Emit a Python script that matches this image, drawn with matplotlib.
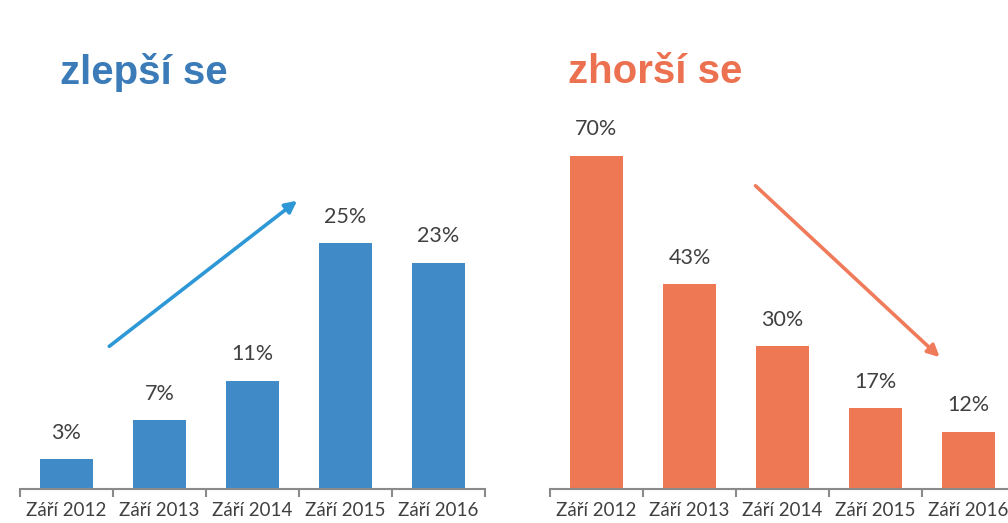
import matplotlib
matplotlib.use("Agg")
import matplotlib.pyplot as plt

categories = ["Září 2012", "Září 2013", "Září 2014", "Září 2015", "Září 2016"]
better = [3, 7, 11, 25, 23]
worse = [70, 43, 30, 17, 12]
titles = ["zlepší se", "zhorší se"]

W, H = 1008, 523
fig = plt.figure(figsize=(W / 100, H / 100), dpi=100)

label_font = "Lato"
label_color = "#404040"

def make_axes(rect, values, ylim, bar_color, title, title_color, title_xy, arrow, arrow_color):
    ax = fig.add_axes(rect)
    x = list(range(len(categories)))
    ax.bar(x, values, width=0.56, color=bar_color, zorder=2)
    ax.set_xlim(-0.5, len(categories) - 0.5)
    ax.set_ylim(0, ylim)
    for s in ["top", "right", "left"]:
        ax.spines[s].set_visible(False)
    ax.spines["bottom"].set_color("#8a8a8a")
    ax.spines["bottom"].set_linewidth(1.5)
    ax.set_yticks([])
    ax.set_xticks(x)
    ax.set_xticklabels(categories, fontsize=13.5, color=label_color, family=label_font)
    ax.tick_params(axis="x", which="major", length=0, pad=9)
    ax.set_xticks([i - 0.5 for i in range(len(categories) + 1)], minor=True)
    ax.tick_params(axis="x", which="minor", length=6, width=1.5, color="#8a8a8a", direction="out")
    for xi, v in zip(x, values):
        ax.annotate(f"{v}%", (xi, v), xytext=(0, 19), textcoords="offset points",
                    ha="center", va="center", fontsize=15.5, color=label_color,
                    family=label_font, annotation_clip=False)
    fig.text(title_xy[0] / W, 1 - title_xy[1] / H, title, fontsize=29, fontweight="bold",
             color=title_color, family="Liberation Sans", ha="left", va="center")
    (x0, y0), (x1, y1) = arrow
    ax.annotate("", xy=(x1, y1), xytext=(x0, y0),
                arrowprops=dict(arrowstyle="-|>,head_length=0.7,head_width=0.35",
                                color=arrow_color, lw=2.6, shrinkA=0, shrinkB=0),
                annotation_clip=False)
    return ax

base = 34 / H
# left: 9.84 px per percent, ylim 30
make_axes([20 / W, base, 465 / W, 30 * 9.84 / H], better, 30, "#418ac8",
          titles[0], "#3a7bb8", (60, 72),
          ((0.46, 14.5), (2.48, 29.3)), "#2e98d6")
# right: 4.76 px per percent, ylim 75
make_axes([550 / W, base, 465 / W, 75 * 4.76 / H], worse, 75, "#ee7853",
          titles[1], "#ec7150", (568, 72),
          ((1.71, 63.7), (3.69, 27.7)), "#f07b5b")

fig.savefig("out.png", dpi=100)
